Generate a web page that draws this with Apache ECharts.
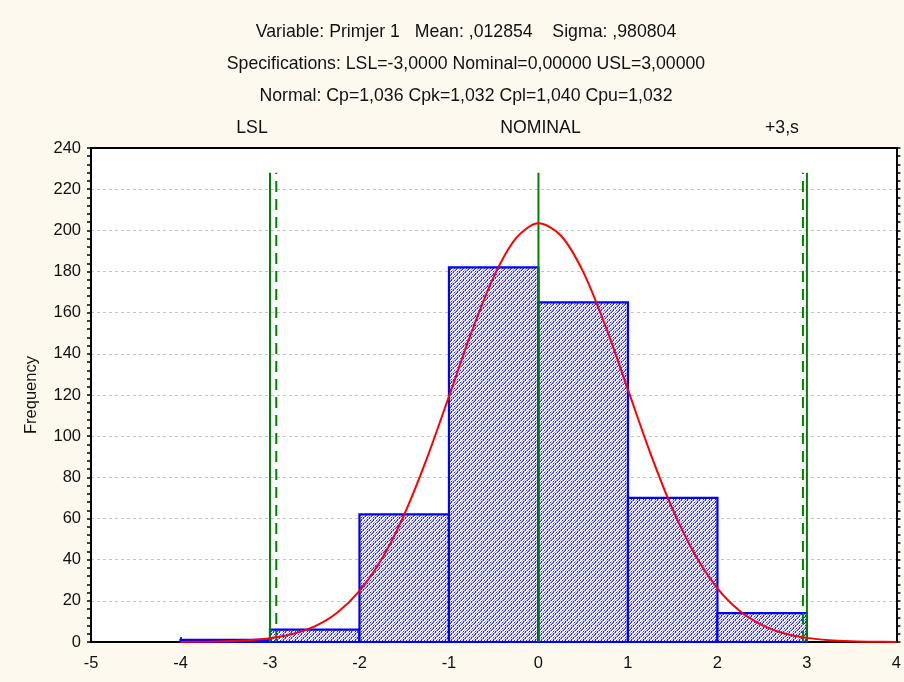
<!DOCTYPE html>
<html>
<head>
<meta charset="utf-8">
<script src="https://cdn.jsdelivr.net/npm/echarts@6/dist/echarts.min.js"></script>
<style>
  html, body { margin: 0; padding: 0; background: #fdf9ef; }
  #chart { width: 904px; height: 682px; }
</style>
</head>
<body>
<div id="chart"></div>
<script>
// Process capability histogram: header text
const titleLines = [
  'Variable: Primjer 1   Mean: ,012854    Sigma: ,980804',
  'Specifications: LSL=-3,0000 Nominal=0,00000 USL=3,00000',
  'Normal: Cp=1,036 Cpk=1,032 Cpl=1,040 Cpu=1,032'
];

// Histogram bins (lower bound, width 1) and counts
const binStarts = [-4, -3, -2, -1, 0, 1, 2];
const binWidth = 1;
const binCounts = [1, 6, 62, 182, 165, 70, 14];

// Fitted normal curve, read at quarter steps
const curveX = [-4, -3.75, -3.5, -3.25, -3, -2.75, -2.5, -2.25, -2, -1.75, -1.5, -1.25, -1, -0.75, -0.5, -0.25,
                0, 0.25, 0.5, 0.75, 1, 1.25, 1.5, 1.75, 2, 2.25, 2.5, 2.75, 3, 3.25, 3.5, 3.75, 4];
const curveY = [0.05, 0.13, 0.33, 0.8, 1.8, 3.9, 7.6, 14.2, 24.8, 40.4, 61.9, 88.8, 119.3, 150.3, 177.4, 196.2,
                203.4, 197.5, 179.8, 153.3, 122.6, 91.8, 64.4, 42.4, 26.1, 15.1, 8.2, 4.1, 2.0, 0.9, 0.4, 0.14, 0.05];

// Specification limits (solid) and ±3 sigma limits (dashed)
const specLimits = [-3, 0, 3];
const specLabels = ['LSL', 'NOMINAL', ''];
const sigmaLimits = [-2.9296, 2.9553];
const sigmaLabels = ['', '+3,s'];
const limitTop = 228;

// Axis ranges
const xMin = -5, xMax = 4, xStep = 1;
const yMin = 0, yMax = 240, yStep = 20;

const FONT = '"Liberation Sans", Arial, sans-serif';
const FS = 16.5;
const TITLE_FS = 17.7;

// Dotted diagonal fill used inside the bars
function hatchPattern() {
  const rows = [
    '21.1..',
    '.12.2.',
    '..21.1',
    '1..12.',
    '.2..21',
    '1.1..2'
  ];
  const n = rows.length;
  const c = document.createElement('canvas');
  c.width = n; c.height = n;
  const g = c.getContext('2d');
  g.fillStyle = '#ffffff';
  g.fillRect(0, 0, n, n);
  for (let y = 0; y < n; y++) {
    for (let x = 0; x < n; x++) {
      // mirror so the dots run bottom-left to top-right
      const ch = rows[y][n - 1 - x];
      if (ch === '2') { g.fillStyle = '#2828ff'; g.fillRect(x, y, 1, 1); }
      else if (ch === '1') { g.fillStyle = '#a4a4ff'; g.fillRect(x, y, 1, 1); }
    }
  }
  return { image: c, repeat: 'repeat' };
}
const hatch = hatchPattern();

const chart = echarts.init(document.getElementById('chart'), null, { renderer: 'canvas' });

function limitSeries(values, labels, dashed, labelOffsets) {
  return values.map((v, i) => ({
    type: 'line',
    data: [[v, 0], [v, limitTop]],
    symbol: 'none',
    silent: true,
    z: 4,
    lineStyle: { color: '#008000', width: 2, type: dashed ? [11, 7] : 'solid' },
    endLabel: {
      show: labels[i] !== '',
      formatter: labels[i],
      color: '#111',
      fontFamily: FONT,
      fontSize: TITLE_FS,
      align: 'center',
      verticalAlign: 'middle',
      offset: labelOffsets[i]
    }
  }));
}

const option = {
  backgroundColor: '#fdf9ef',
  animation: false,
  textStyle: { fontFamily: FONT },
  title: {
    text: titleLines.join('\n'),
    left: 461,
    textAlign: 'center',
    top: 11,
    textStyle: { fontFamily: FONT, fontSize: TITLE_FS, fontWeight: 'normal', color: '#111', lineHeight: 32 }
  },
  grid: {
    left: 91, right: 5, top: 148, bottom: 40,
    show: true, backgroundColor: '#ffffff', borderWidth: 0
  },
  xAxis: [{
    type: 'value', min: xMin, max: xMax, interval: xStep,
    axisLine: { show: true, onZero: false, lineStyle: { color: '#000', width: 2 } },
    axisTick: { show: true, inside: true, length: 5, lineStyle: { color: '#000', width: 1.5 } },
    axisLabel: { color: '#111', fontSize: FS, fontFamily: FONT, margin: 13 },
    splitLine: { show: false }
  }, {
    type: 'value', position: 'top', min: xMin, max: xMax, interval: xStep,
    axisLine: { show: true, onZero: false, lineStyle: { color: '#000', width: 2 } },
    axisTick: { show: false }, axisLabel: { show: false }, splitLine: { show: false }
  }],
  yAxis: [{
    type: 'value', position: 'left', min: yMin, max: yMax, interval: yStep,
    name: 'Frequency', nameLocation: 'middle', nameGap: 51, nameRotate: 90,
    nameTextStyle: { color: '#111', fontSize: FS, fontFamily: FONT },
    axisLine: { show: true, onZero: false, lineStyle: { color: '#000', width: 2 } },
    axisTick: { show: true, length: 4, lineStyle: { color: '#000', width: 1.5 } },
    minorTick: { show: true, splitNumber: 5, length: 4, lineStyle: { color: '#000', width: 1.5 } },
    axisLabel: { color: '#111', fontSize: FS, fontFamily: FONT, margin: 10 },
    splitLine: { show: true, lineStyle: { color: '#c4c4c4', width: 1, type: [3, 3] } }
  }, {
    type: 'value', position: 'right', min: yMin, max: yMax, interval: yStep,
    axisLine: { show: true, onZero: false, lineStyle: { color: '#000', width: 2 } },
    axisTick: { show: true, length: 4, lineStyle: { color: '#000', width: 1.5 } },
    minorTick: { show: true, splitNumber: 5, length: 4, lineStyle: { color: '#000', width: 1.5 } },
    axisLabel: { show: false },
    splitLine: { show: false }
  }],
  series: [
    {
      type: 'custom',
      data: binStarts.map((s, i) => [s, s + binWidth, binCounts[i]]),
      z: 2,
      renderItem: function (params, api) {
        const top = api.coord([api.value(0), api.value(2)]);
        const bottom = api.coord([api.value(1), 0]);
        return {
          type: 'rect',
          shape: { x: top[0], y: top[1], width: bottom[0] - top[0], height: bottom[1] - top[1] },
          style: { fill: hatch, stroke: '#0000ff', lineWidth: 2.2 }
        };
      }
    },
    ...limitSeries(specLimits, specLabels, false, [[-26, -45], [-6, -45], [0, -45]]),
    ...limitSeries(sigmaLimits, sigmaLabels, true, [[0, -45], [-29, -45]]),
    {
      type: 'line',
      data: curveX.map((x, i) => [x, curveY[i]]),
      smooth: 0.3,
      symbol: 'none',
      silent: true,
      z: 5,
      lineStyle: { color: '#ff0000', width: 2 }
    }
  ]
};

chart.setOption(option);
</script>
</body>
</html>
